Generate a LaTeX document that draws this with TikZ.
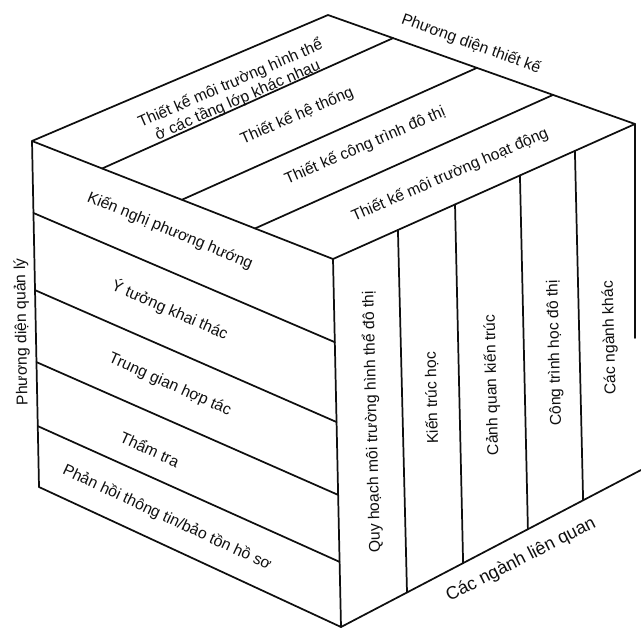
\documentclass[tikz,border=0pt]{standalone}
\usepackage{fontspec}
\setmainfont{Liberation Sans}
\usepackage{tikz}
\usetikzlibrary{calc}
\definecolor{inkblack}{RGB}{15,15,15}
\tikzset{
  edge/.style ={draw=inkblack, line width=1.3pt, line join=round, line cap=round},
  lbl/.style  ={font=\fontsize{11.8}{13.5}\selectfont, text=inkblack, inner sep=1pt, align=center},
  axis/.style ={font=\fontsize{11.8}{14}\selectfont, text=inkblack, inner sep=1pt}
}

\begin{document}
\begin{tikzpicture}[x=0.75pt, y=-0.75pt]
\useasboundingbox (0,0) rectangle (641,629);
% Corners of the cube
\coordinate (lt) at (32,141);
\coordinate (bk) at (328,15);
\coordinate (rt) at (635,124);
\coordinate (ft) at (333,259);
\coordinate (fb) at (341,627);
\coordinate (lb) at (39,487);
\coordinate (rb) at (641,470);
\coordinate (rcut) at (635,338);
% Outline
\draw[edge] (lb) -- (lt) -- (bk) -- (rt) -- (ft) -- (lt);
\draw[edge] (ft) -- (fb) -- (lb);
\draw[edge] (fb) -- (rb);
\draw[edge] (rt) -- (rcut);
% Top face strips
\foreach \ta/\tb in {0.233/0.212, 0.498/0.485, 0.741/0.733}{
  \draw[edge] ($(lt)!\ta!(ft)$) -- ($(bk)!\tb!(rt)$);
}
% Left face strips
\foreach \ta/\tb in {0.208/0.226, 0.431/0.443, 0.639/0.641, 0.824/0.823}{
  \draw[edge] ($(lt)!\ta!(lb)$) -- ($(ft)!\tb!(fb)$);
}
% Right face strips
\foreach \ta/\tb in {0.215/0.22, 0.404/0.407, 0.619/0.623, 0.801/0.807}{
  \draw[edge] ($(ft)!\ta!(rt)$) -- ($(fb)!\tb!(rb)$);
}
% Top face labels
\node[lbl, rotate=23.5] (tk1) at (234,92) {Thiết kế môi trường hình thể\\ở các tầng lớp khác nhau};
\node[lbl, rotate=23.5] (tk2) at (297,116) {Thiết kế hệ thống};
\node[lbl, rotate=23.5] (tk3) at (365,146) {Thiết kế công trình đô thị};
\node[lbl, rotate=23.5] (tk4) at (450,175) {Thiết kế môi trường hoạt động};
% Left face labels
\foreach \x/\y/\a/\name/\txt in {170/231/-22.5/ql1/{Kiến nghị phương hướng},
    170/310/-23.5/ql2/{Ý tưởng khai thác}, 170/385/-24/ql3/{Trung gian hợp tác},
    150/449/-24.5/ql4/{Thẩm tra}, 167/518/-25/ql5/{Phản hồi thông tin/bảo tồn hồ sơ}}{
  \node[lbl, rotate=\a] (\name) at (\x,\y) {\txt};
}
% Right face labels
\foreach \x/\y/\name/\txt in {372/422/nl1/{Quy hoạch môi trường hình thể đô thị},
    432/398/nl2/{Kiến trúc học}, 492/385/nl3/{Cảnh quan kiến trúc},
    555/353/nl4/{Công trình học đô thị}, 610/338/nl5/{Các ngành khác}}{
  \node[lbl, rotate=91.5] (\name) at (\x,\y) {\txt};
}
% Axis names
\node[axis, rotate=-20] (pdtk) at (471,44) {Phương diện thiết kế};
\node[axis, rotate=91] (pdql) at (22,332) {Phương diện quản lý};
\node[axis, rotate=27, font=\fontsize{13.5}{16}\selectfont] (cnlq) at (521,560) {Các ngành liên quan};
\end{tikzpicture}
\end{document}
